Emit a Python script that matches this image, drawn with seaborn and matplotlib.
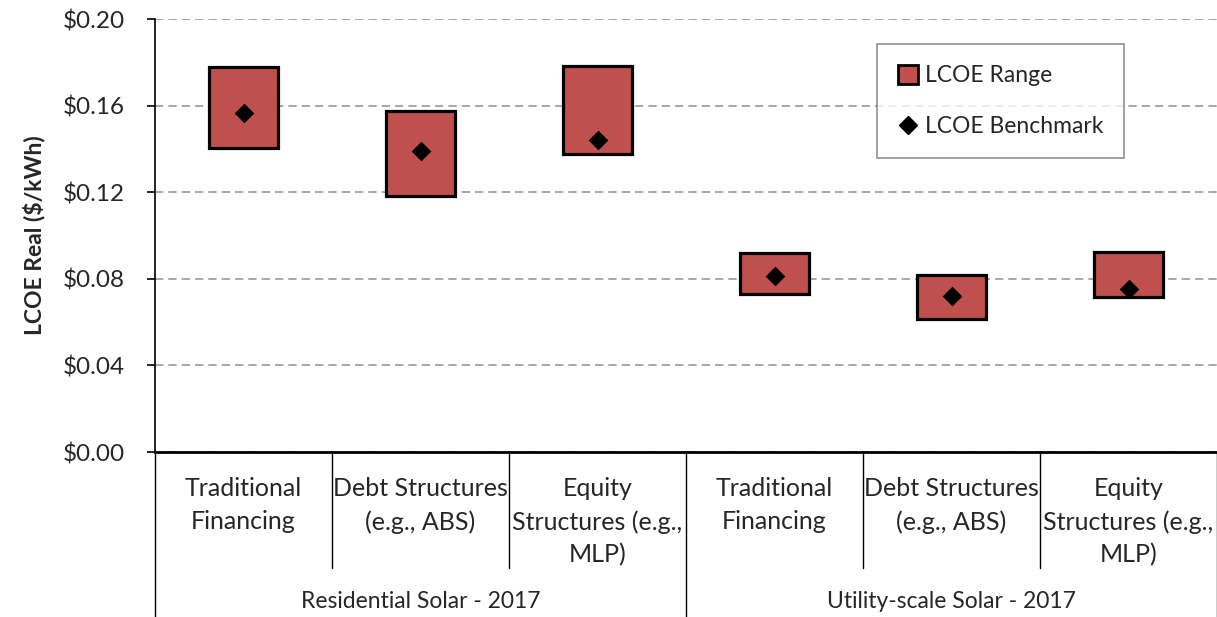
import numpy as np
import pandas as pd
import seaborn as sns
import matplotlib.pyplot as plt
from matplotlib.patches import Patch
from matplotlib.lines import Line2D
from matplotlib.ticker import FuncFormatter

#### data
segments = ["Residential Solar - 2017", "Utility-scale Solar - 2017"]
financing = ["Traditional\nFinancing", "Debt Structures\n(e.g., ABS)",
             "Equity\nStructures (e.g.,\nMLP)"]
lcoe_low = [0.1406, 0.1184, 0.1378, 0.0731, 0.0614, 0.0714]
lcoe_high = [0.1777, 0.1576, 0.1785, 0.0920, 0.0819, 0.0925]
lcoe_bench = [0.1565, 0.1392, 0.1442, 0.0812, 0.0722, 0.0751]

keys = [s + " | " + f for s in segments for f in financing]
df = pd.DataFrame({"key": keys,
                   "low": lcoe_low,
                   "span": np.array(lcoe_high) - np.array(lcoe_low),
                   "bench": lcoe_bench})

RED = "#C0504D"
FONT = "Lato"

sns.set_style("white")
plt.rcParams["font.family"] = [FONT, "DejaVu Sans"]

fig = plt.figure(figsize=(12.17, 6.17), dpi=100, facecolor="white")
ax = fig.add_axes([0.1274, 0.2674, 0.8726, 0.7018])

sns.barplot(data=df, x="key", y="span", order=keys, bottom=df["low"].values,
            color=RED, saturation=1, width=0.385, edgecolor="black",
            linewidth=2.3, errorbar=None, ax=ax, zorder=3)
sns.stripplot(data=df, x="key", y="bench", order=keys, marker="D",
              color="black", size=10, jitter=False, linewidth=0, ax=ax, zorder=4)

ax.set_ylim(0, 0.20)
ax.set_xlim(-0.5, 5.5)
ax.set_yticks(np.arange(0, 0.2001, 0.04))
ax.yaxis.set_major_formatter(FuncFormatter(lambda v, p: "${:.2f}".format(v)))
ax.tick_params(axis="y", labelsize=17.5, length=6, width=1.2, color="black",
               direction="out", left=True, pad=16)
ax.set_xticks([])
ax.set_xlabel("")
ax.set_ylabel("LCOE Real ($/kWh)", fontsize=16.5, fontweight="bold", labelpad=12)
ax.grid(axis="y", color="#999999", linestyle=(0, (5, 3)), linewidth=1.2, zorder=0)
ax.set_axisbelow(True)
for s in ["top", "right"]:
    ax.spines[s].set_visible(False)
ax.spines["left"].set_color("black")
ax.spines["left"].set_linewidth(1.2)
ax.spines["bottom"].set_color("black")
ax.spines["bottom"].set_linewidth(2)

#### two-level category axis
trans = ax.get_xaxis_transform()
for i, k in enumerate(keys):
    ax.text(i, -0.058, financing[i % 3], transform=trans, ha="center", va="top",
            fontsize=18, linespacing=1.5, multialignment="center")
for x in [0.5, 1.5, 3.5, 4.5]:
    ax.plot([x, x], [0, -0.268], transform=trans, color="black", lw=1, clip_on=False)
for x in [-0.5, 2.5, 5.5]:
    ax.plot([x, x], [0, -0.40], transform=trans, color="black", lw=1, clip_on=False)
for j, seg in enumerate(segments):
    ax.text(j * 3 + 1, -0.346, seg, transform=trans, ha="center", va="center",
            fontsize=16.5)

#### legend
handles = [Patch(facecolor=RED, edgecolor="black", linewidth=2, label="LCOE Range"),
           Line2D([], [], marker="D", color="black", linestyle="none",
                  markersize=9, label="LCOE Benchmark")]
leg = ax.legend(handles=handles, loc="upper left", bbox_to_anchor=(0.680, 0.942),
                borderaxespad=0, fancybox=False, frameon=True, fontsize=16.5,
                handlelength=0.9, handleheight=0.9, handletextpad=0.3,
                labelspacing=1.3, borderpad=0.9)
leg.get_frame().set_edgecolor("#7F7F7F")
leg.get_frame().set_linewidth(1.3)

plt.savefig("out.png", dpi=100, facecolor="white")
